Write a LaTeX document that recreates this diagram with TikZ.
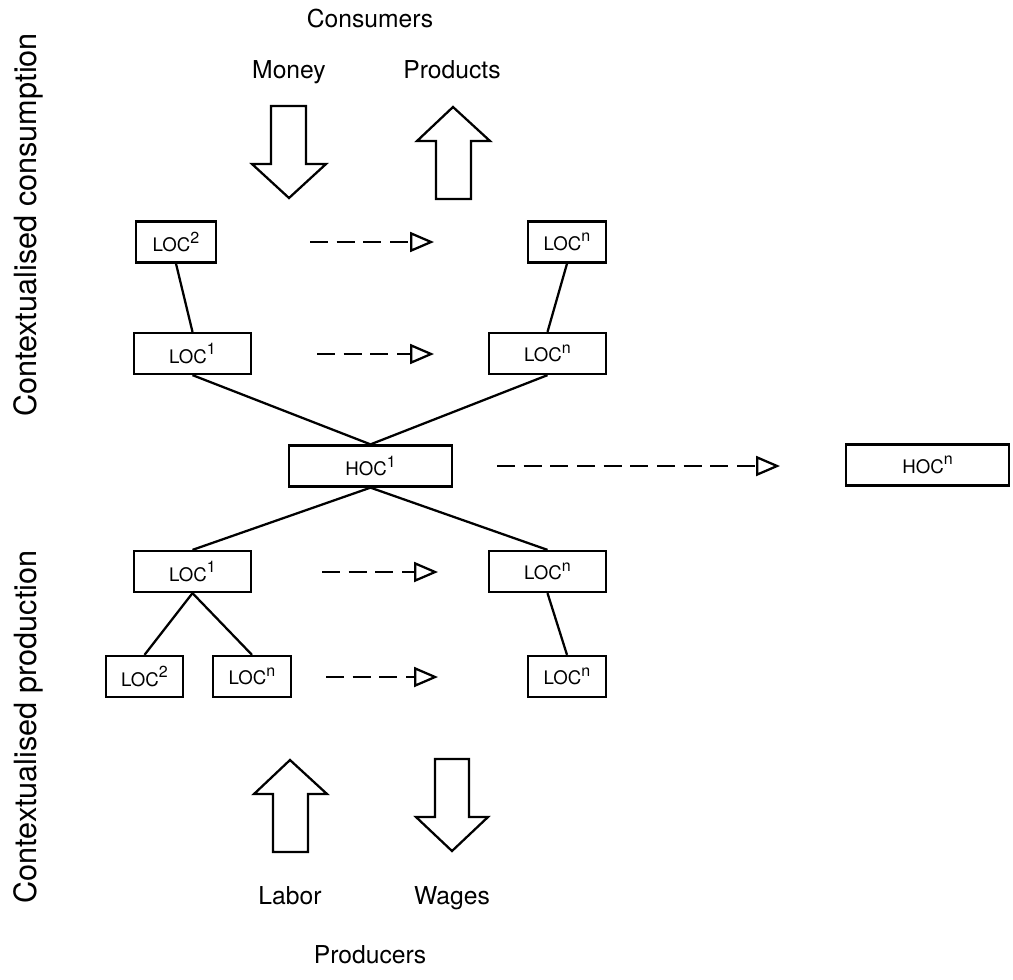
\documentclass[tikz,border=0pt]{standalone}
\usepackage{fontspec}
\setmainfont{TeX Gyre Heros}
\usetikzlibrary{arrows.meta}
\newcommand{\ctx}[2]{#1\raisebox{6.5pt}{\fontsize{12}{12}\selectfont #2}}
\tikzset{
  box/.style={draw, line width=1.7pt, minimum height=30.75pt, inner sep=0pt, font=\fontsize{14}{15}\selectfont},
  link/.style={line width=1.7pt},
  flow/.style={line width=1.7pt, dash pattern={on 13.5pt off 6.5pt}, -{Triangle[open,length=18pt,width=15pt]}},
  bigarrow/.style={line width=1.7pt, line join=miter},
  caption/.style={font=\fontsize{18.5}{20}\selectfont, inner sep=0pt, anchor=base},
  side/.style={font=\fontsize{23}{24}\selectfont, inner sep=0pt, rotate=90},
}
\begin{document}
\begin{tikzpicture}[x=0.75pt,y=0.75pt,yscale=-1,xscale=1]
\useasboundingbox (0,0) rectangle (1013,979);
% side labels
\node [side] (cons) at (28,225) {Contextualised consumption};
\node [side] (prod) at (28,727) {Contextualised production};
% captions
\node [caption] (consumers) at (370,27) {Consumers};
\node [caption] (money) at (289,78) {Money};
\node [caption] (products) at (452,78) {Products};
\node [caption] (labor) at (290,904) {Labor};
\node [caption] (wages) at (452,904) {Wages};
\node [caption] (producers) at (370,963) {Producers};
% block arrows
\draw [bigarrow] (271,106) -- (306,106) -- (306,164) -- (326,164) -- (289,198) -- (252,164) -- (271,164) -- cycle ;
\draw [bigarrow] (436,199) -- (471,199) -- (471,141) -- (490,141) -- (453,107) -- (417,141) -- (436,141) -- cycle ;
\draw [bigarrow] (273,852) -- (308,852) -- (308,794) -- (327,794) -- (290,760) -- (254,794) -- (273,794) -- cycle ;
\draw [bigarrow] (435,759) -- (469,759) -- (469,817) -- (488,817) -- (452,851) -- (416,817) -- (435,817) -- cycle ;
% consumption side
\node [box, minimum width=60pt] (loc2c) at (176,242) {\ctx{LOC}{2}};
\node [box, minimum width=58.5pt] (locnc) at (567,242) {\ctx{LOC}{n}};
\node [box, minimum width=87.75pt] (loc1c) at (192.5,353.5) {\ctx{LOC}{1}};
\node [box, minimum width=87.75pt] (locnc2) at (547.5,353.5) {\ctx{LOC}{n}};
% higher order
\node [box, minimum width=122.25pt] (hoc1) at (370.5,466) {\ctx{HOC}{1}};
\node [box, minimum width=122.25pt] (hocn) at (927.5,465) {\ctx{HOC}{n}};
% production side
\node [box, minimum width=87.75pt] (loc1p) at (192.5,571.5) {\ctx{LOC}{1}};
\node [box, minimum width=87.75pt] (locnp) at (547.5,571.5) {\ctx{LOC}{n}};
\node [box, minimum width=57.75pt] (loc2p) at (144.5,676.5) {\ctx{LOC}{2}};
\node [box, minimum width=58.5pt] (locnp2) at (252,676.5) {\ctx{LOC}{n}};
\node [box, minimum width=58.5pt] (locnp3) at (567,676.5) {\ctx{LOC}{n}};
% tree links
\draw [link] (loc2c.south) -- (loc1c.north) ;
\draw [link] (locnc.south) -- (locnc2.north) ;
\draw [link] (loc1c.south) -- (hoc1.north) ;
\draw [link] (locnc2.south) -- (hoc1.north) ;
\draw [link] (hoc1.south) -- (loc1p.north) ;
\draw [link] (hoc1.south) -- (locnp.north) ;
\draw [link] (loc1p.south) -- (loc2p.north) ;
\draw [link] (loc1p.south) -- (locnp2.north) ;
\draw [link] (locnp.south) -- (locnp3.north) ;
% dashed flows
\coordinate (f1a) at (310,242);
\coordinate (f1b) at (434,242);
\coordinate (f2a) at (317,354);
\coordinate (f2b) at (434,354);
\coordinate (f3a) at (322,572);
\coordinate (f3b) at (438,572);
\coordinate (f4a) at (326,677);
\coordinate (f4b) at (438,677);
\coordinate (f5a) at (497,466);
\coordinate (f5b) at (780,466);
\draw [flow] (f1a) -- (f1b) ;
\draw [flow] (f2a) -- (f2b) ;
\draw [flow] (f3a) -- (f3b) ;
\draw [flow] (f4a) -- (f4b) ;
\draw [flow] (f5a) -- (f5b) ;
\end{tikzpicture}
\end{document}
